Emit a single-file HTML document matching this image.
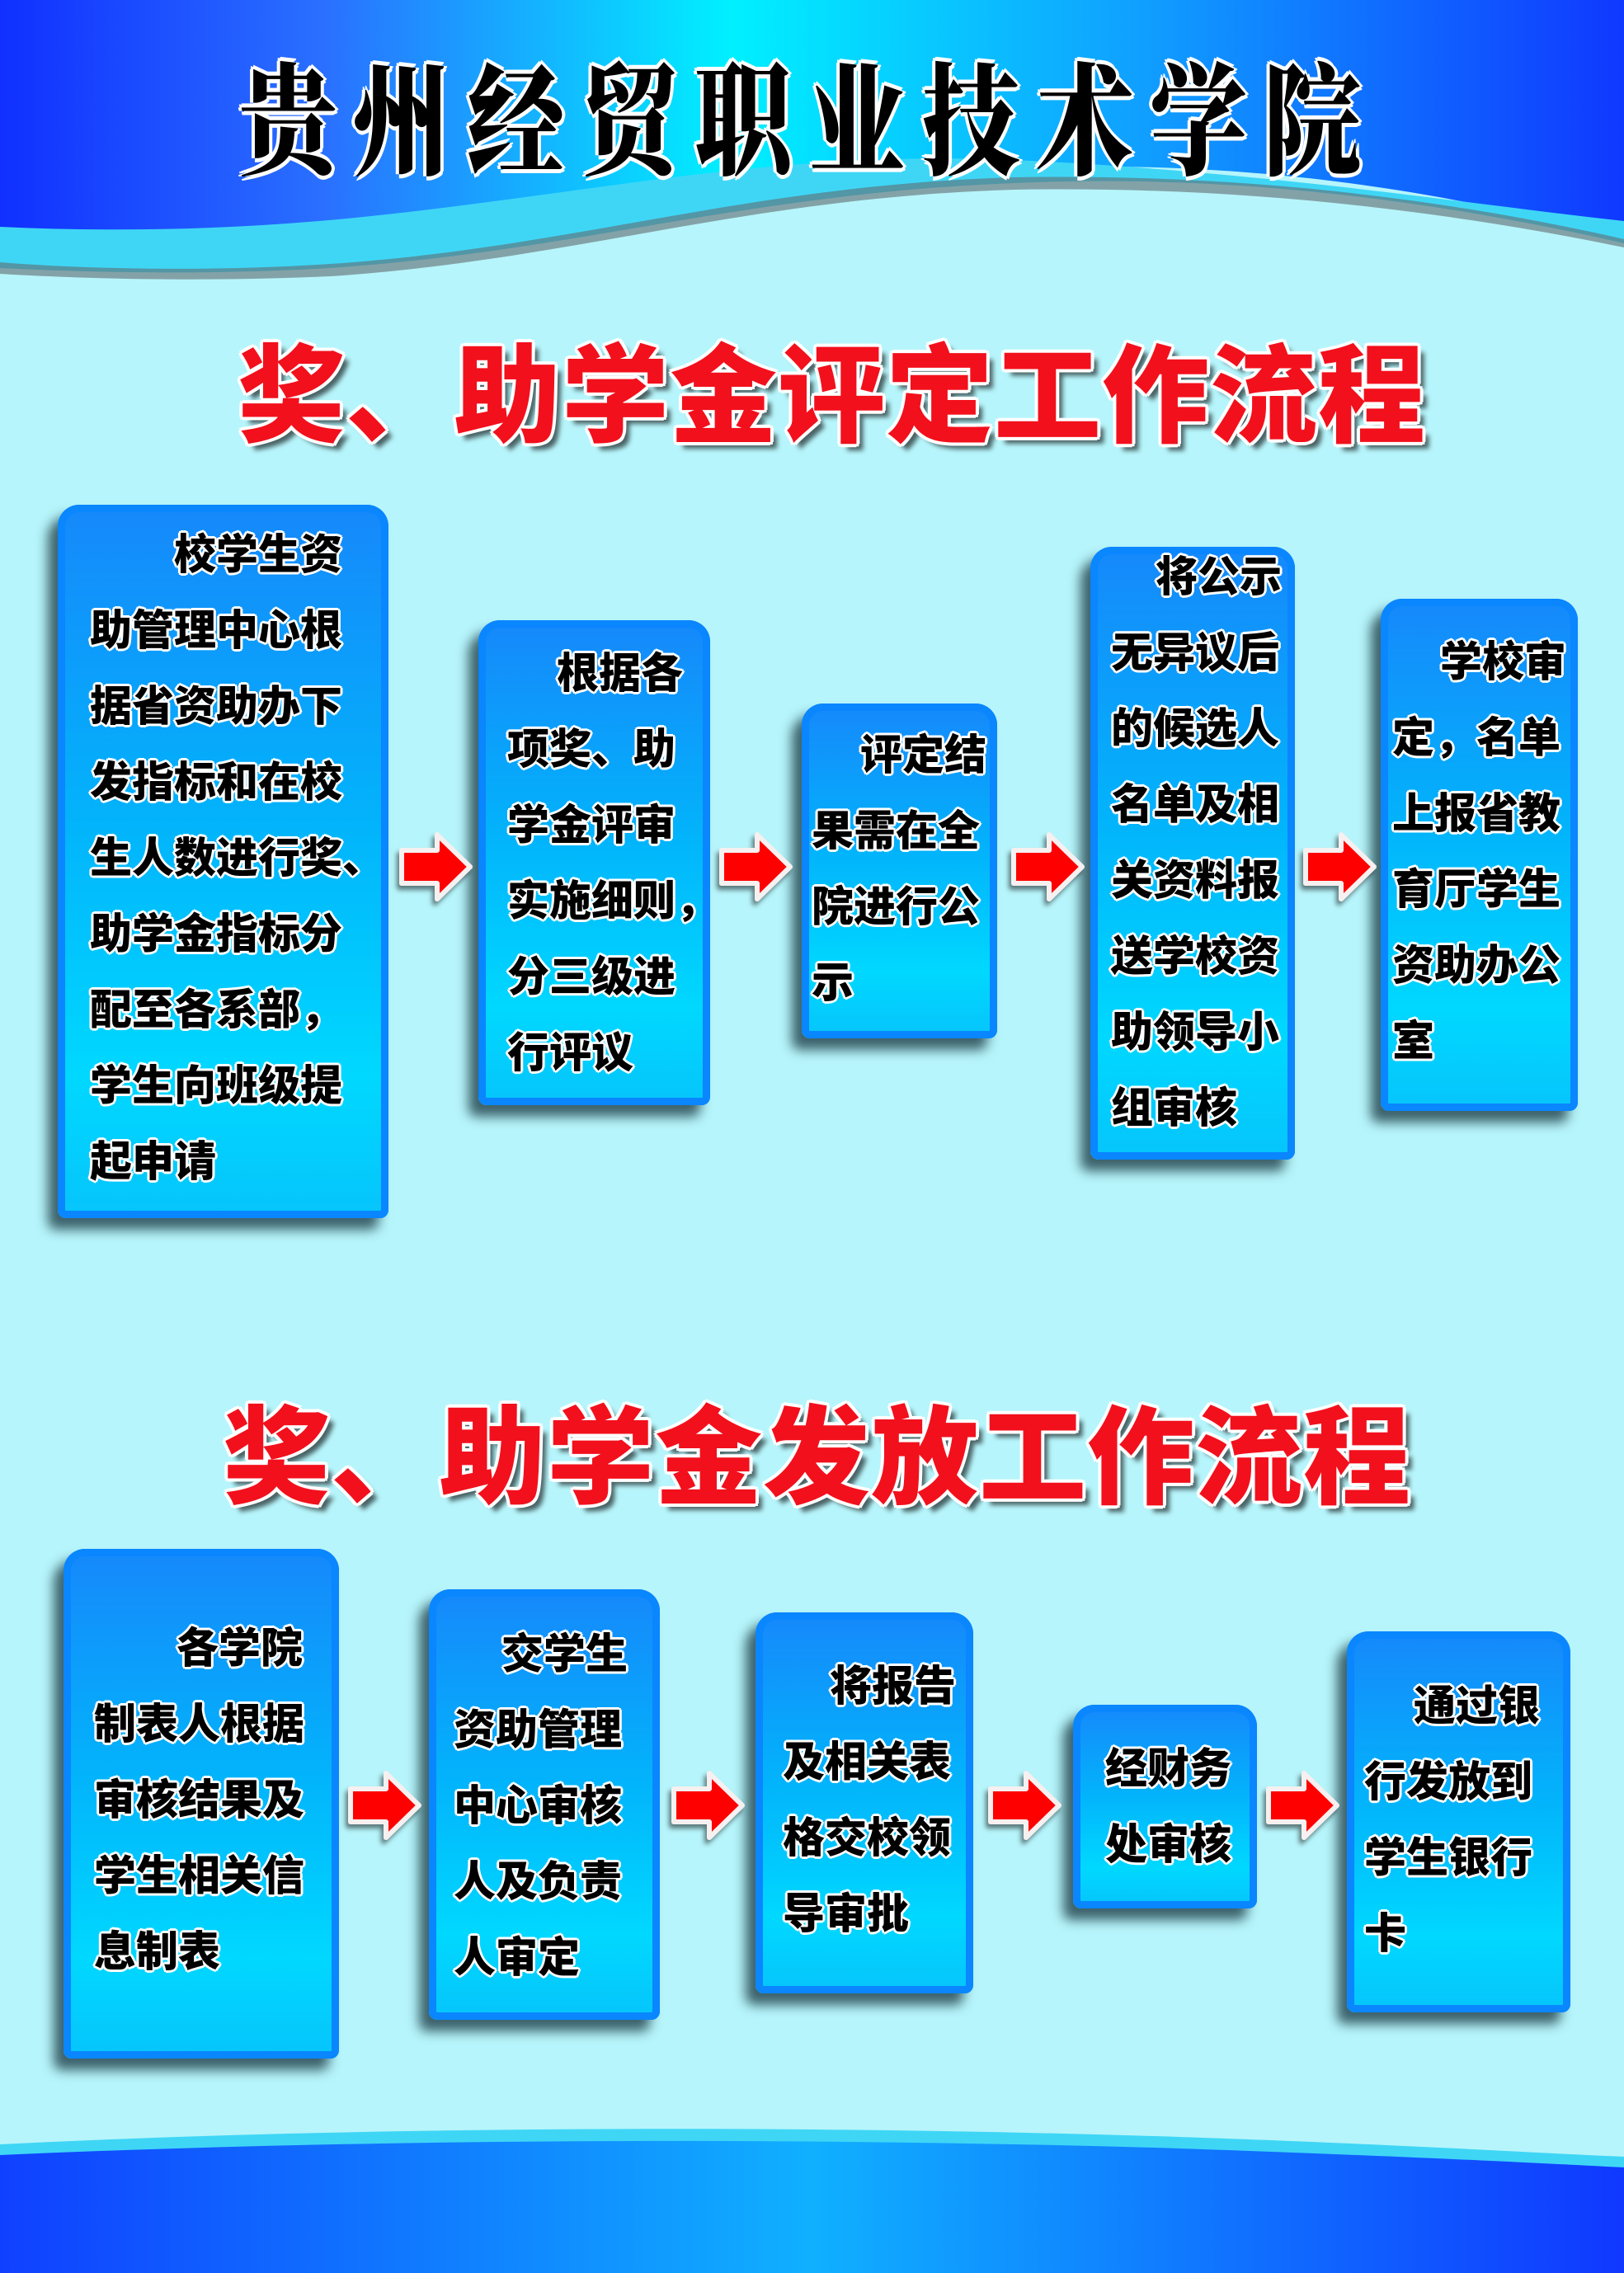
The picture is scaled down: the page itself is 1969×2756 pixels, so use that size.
<!DOCTYPE html>
<html><head><meta charset="utf-8"><style>
html,body{margin:0;padding:0}
body{width:1969px;height:2756px;position:relative;overflow:hidden;background:#b6f5fb;font-family:"Liberation Sans","Noto Sans CJK SC",sans-serif}
.box{position:absolute;border-radius:26px 26px 10px 10px;background:linear-gradient(180deg,#1688fb 0%,#02b4fb 45%,#00d8ff 80%,#06c4fb 100%);box-shadow:-12px 14px 14px rgba(20,50,60,.75), inset 0 0 0 9px #0a86ff;}
.t{position:absolute;font-weight:900;font-size:51px;line-height:92px;color:#000;white-space:nowrap;
text-shadow:3px 0 0 #fff,-3px 0 0 #fff,0 3px 0 #fff,0 -3px 0 #fff,2px 2px 0 #fff,-2px -2px 0 #fff,2px -2px 0 #fff,-2px 2px 0 #fff;}
.t span{display:block}
.h{position:absolute;font-weight:900;font-size:130px;color:#f2101c;white-space:nowrap;letter-spacing:1px;
text-shadow:4px 0 0 #fff,-4px 0 0 #fff,0 4px 0 #fff,0 -4px 0 #fff,3px 3px 0 #fff,-3px -3px 0 #fff,3px -3px 0 #fff,-3px 3px 0 #fff,8px 8px 6px rgba(0,0,0,.6)}
.ar{position:absolute}
</style></head><body>
<svg width="1969" height="2756" style="position:absolute;left:0;top:0">
<defs>
<linearGradient id="hg" x1="0" x2="1" y1="0" y2="0">
<stop offset="0" stop-color="#1030ff"/><stop offset="0.2" stop-color="#2a70ff"/><stop offset="0.45" stop-color="#00f0ff"/><stop offset="0.7" stop-color="#10a0ff"/><stop offset="1" stop-color="#1038ff"/></linearGradient>
<linearGradient id="bg2" x1="0" x2="1"><stop offset="0" stop-color="#1040ff"/><stop offset="0.5" stop-color="#10b0ff"/><stop offset="1" stop-color="#1038ff"/></linearGradient>
</defs>
<path d="M0 0 H1969 V290 C1750 230 1500 190 1200 205 C900 220 700 300 400 320 C250 330 100 325 0 318 Z" fill="url(#hg)"/>
<path d="M0 275 C150 282 300 278 450 262 C750 230 950 180 1250 195 C1550 210 1800 250 1969 268 V295 C1750 245 1500 210 1230 222 C900 235 700 305 400 325 C250 334 100 330 0 325 Z" fill="#3fd6f6"/>
<path d="M0 318 C100 326 250 330 400 320 C700 300 900 225 1230 215 C1500 210 1750 240 1969 290 V300 C1750 255 1500 225 1230 230 C900 240 700 315 400 335 C250 342 100 338 0 332 Z" fill="#606a70" opacity=".6"/>
<path d="M0 2610 C400 2590 900 2585 1400 2600 C1700 2610 1850 2620 1969 2625 V2756 H0 Z" fill="url(#bg2)"/>
<path d="M0 2600 C400 2580 900 2575 1400 2590 C1700 2600 1850 2610 1969 2615 V2628 C1850 2622 1700 2614 1400 2604 C900 2590 400 2595 0 2613 Z" fill="#3fd6f6"/>
</svg>
<div style="position:absolute;left:290px;top:30px;font-family:'Noto Serif CJK SC',serif;font-weight:900;font-size:118px;letter-spacing:20px;color:#000;transform:scaleY(1.25);transform-origin:top left;white-space:nowrap;text-shadow:4px 0 0 #fff,-4px 0 0 #fff,0 4px 0 #fff,0 -4px 0 #fff,3px 3px 0 #fff,-3px -3px 0 #fff">贵州经贸职业技术学院</div>

<div class="h" style="left:288px;top:376px">奖、助学金评定工作流程</div>
<div class="h" style="left:270px;top:1663px">奖、助学金发放工作流程</div>

<!-- row 1 -->
<div class="box" style="left:70px;top:612px;width:401px;height:865px"></div>
<div class="t" style="left:109px;top:627px"><span style="padding-left:102px">校学生资</span><span>助管理中心根</span><span>据省资助办下</span><span>发指标和在校</span><span>生人数进行奖、</span><span>助学金指标分</span><span>配至各系部，</span><span>学生向班级提</span><span>起申请</span></div>

<div class="box" style="left:580px;top:752px;width:281px;height:588px"></div>
<div class="t" style="left:615px;top:771px"><span style="padding-left:60px">根据各</span><span>项奖、助</span><span>学金评审</span><span>实施细则，</span><span>分三级进</span><span>行评议</span></div>

<div class="box" style="left:972px;top:853px;width:237px;height:406px"></div>
<div class="t" style="left:984px;top:870px"><span style="padding-left:59px">评定结</span><span>果需在全</span><span>院进行公</span><span>示</span></div>

<div class="box" style="left:1322px;top:663px;width:248px;height:743px"></div>
<div class="t" style="left:1347px;top:654px"><span style="padding-left:54px">将公示</span><span>无异议后</span><span>的候选人</span><span>名单及相</span><span>关资料报</span><span>送学校资</span><span>助领导小</span><span>组审核</span></div>

<div class="box" style="left:1674px;top:726px;width:239px;height:621px"></div>
<div class="t" style="left:1688px;top:757px"><span style="padding-left:58px">学校审</span><span>定，名单</span><span>上报省教</span><span>育厅学生</span><span>资助办公</span><span>室</span></div>

<!-- row 2 -->
<div class="box" style="left:77px;top:1878px;width:334px;height:618px"></div>
<div class="t" style="left:114px;top:1953px"><span style="padding-left:100px">各学院</span><span>制表人根据</span><span>审核结果及</span><span>学生相关信</span><span>息制表</span></div>

<div class="box" style="left:520px;top:1927px;width:280px;height:522px"></div>
<div class="t" style="left:550px;top:1960px"><span style="padding-left:58px">交学生</span><span>资助管理</span><span>中心审核</span><span>人及负责</span><span>人审定</span></div>

<div class="box" style="left:916px;top:1955px;width:264px;height:462px"></div>
<div class="t" style="left:949px;top:1999px"><span style="padding-left:57px">将报告</span><span>及相关表</span><span>格交校领</span><span>导审批</span></div>

<div class="box" style="left:1301px;top:2067px;width:223px;height:247px"></div>
<div class="t" style="left:1340px;top:2099px"><span>经财务</span><span>处审核</span></div>

<div class="box" style="left:1633px;top:1978px;width:271px;height:462px"></div>
<div class="t" style="left:1654px;top:2023px"><span style="padding-left:60px">通过银</span><span>行发放到</span><span>学生银行</span><span>卡</span></div>

<!-- arrows -->
<svg width="1969" height="2756" style="position:absolute;left:0;top:0;pointer-events:none">
<defs><g id="a"><path d="M3 22 H46 V3 L86 42 L46 81 V62 H3 Z" fill="#ff0000" stroke="#f6f0f0" stroke-width="6" stroke-linejoin="round"/></g>
<filter id="sh"><feDropShadow dx="-3" dy="5" stdDeviation="3" flood-opacity=".5"/></filter></defs>
<g filter="url(#sh)">
<use href="#a" x="484" y="1009"/><use href="#a" x="872" y="1009"/><use href="#a" x="1226" y="1009"/><use href="#a" x="1580" y="1009"/>
<use href="#a" x="422" y="2147"/><use href="#a" x="814" y="2147"/><use href="#a" x="1198" y="2147"/><use href="#a" x="1535" y="2147"/>
</g>
</svg>
</body></html>
